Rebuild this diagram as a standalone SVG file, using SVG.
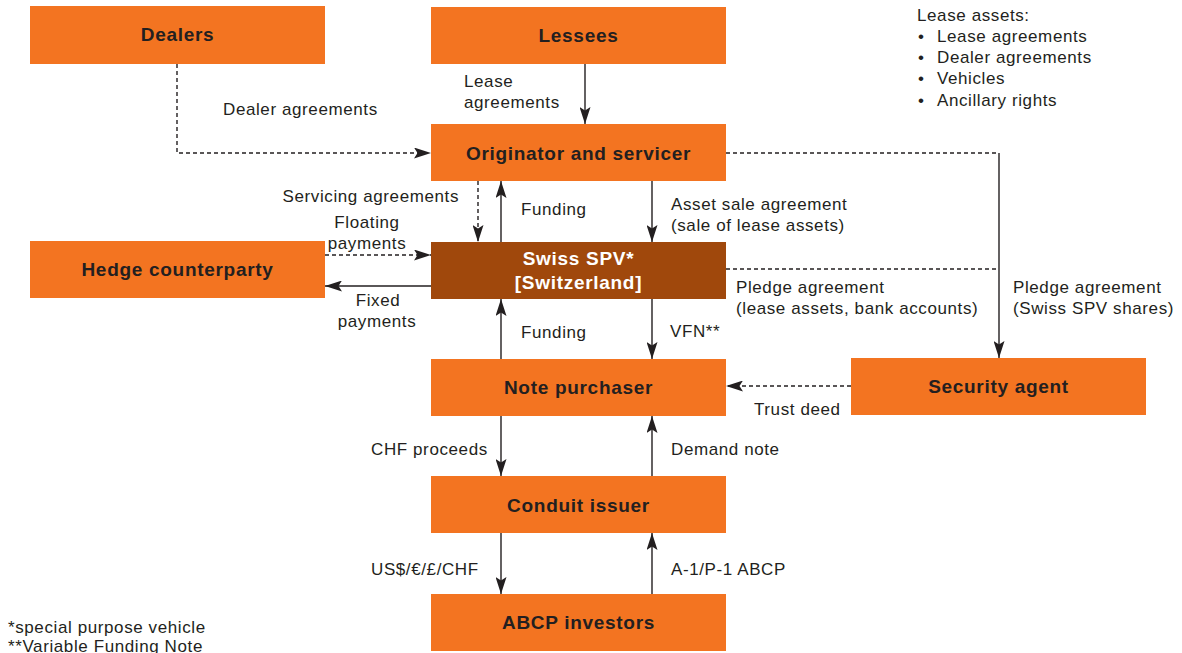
<svg xmlns="http://www.w3.org/2000/svg" width="1182" height="653" viewBox="0 0 1182 653">
<style>
.box{fill:#F37421}
.spv{fill:#A0480C}
.bt{font-family:"Liberation Sans",Arial,sans-serif;font-weight:bold;font-size:19px;letter-spacing:0.7px;fill:#231F20;text-anchor:middle}
.wt{fill:#FFFFFF}
.t{font-family:"Liberation Sans",Arial,sans-serif;font-size:17px;letter-spacing:0.6px;fill:#231F20}
.c{text-anchor:middle}
.e{text-anchor:end}
.ln{stroke:#231F20;stroke-width:1.4;fill:none}
.d{stroke-dasharray:4 3}
</style>
<defs>
<marker id="ah" markerUnits="userSpaceOnUse" markerWidth="17" markerHeight="11" refX="17" refY="5.5" orient="auto">
<path d="M0,0 L17,5.5 L0,11 L3.5,5.5 Z" fill="#231F20"/>
</marker>
</defs>
<g id="connectors">
<path class="ln d" d="M177,64 V153 H431" marker-end="url(#ah)"/>
<path class="ln" d="M585,64 V124" marker-end="url(#ah)"/>
<path class="ln d" d="M478,181 V242" marker-end="url(#ah)"/>
<path class="ln" d="M501,242 V181" marker-end="url(#ah)"/>
<path class="ln" d="M652,181 V242" marker-end="url(#ah)"/>
<path class="ln d" d="M325,255 H431" marker-end="url(#ah)"/>
<path class="ln" d="M431,286 H325" marker-end="url(#ah)"/>
<path class="ln d" d="M726,153 H999"/>
<path class="ln" d="M999,153 V358" marker-end="url(#ah)"/>
<path class="ln d" d="M726,269 H999"/>
<path class="ln" d="M501,359 V299" marker-end="url(#ah)"/>
<path class="ln" d="M652,299 V359" marker-end="url(#ah)"/>
<path class="ln d" d="M851,386 H726" marker-end="url(#ah)"/>
<path class="ln" d="M501,416 V476" marker-end="url(#ah)"/>
<path class="ln" d="M652,476 V416" marker-end="url(#ah)"/>
<path class="ln" d="M501,533 V594" marker-end="url(#ah)"/>
<path class="ln" d="M652,594 V533" marker-end="url(#ah)"/>
</g>
<g id="dealers"><rect class="box" x="30" y="6" width="295" height="58"/><text class="bt" x="177.5" y="41">Dealers</text></g>
<g id="lessees"><rect class="box" x="431" y="7" width="295" height="57"/><text class="bt" x="578.5" y="42">Lessees</text></g>
<g id="originator"><rect class="box" x="431" y="124" width="295" height="57"/><text class="bt" x="578.5" y="160">Originator and servicer</text></g>
<g id="spv"><rect class="spv" x="431" y="242" width="295" height="57"/><text class="bt wt" x="578.5" y="265">Swiss SPV*</text><text class="bt wt" x="578.5" y="289">[Switzerland]</text></g>
<g id="hedge"><rect class="box" x="30" y="241" width="295" height="57"/><text class="bt" x="177.5" y="276">Hedge counterparty</text></g>
<g id="notepurchaser"><rect class="box" x="431" y="359" width="295" height="57"/><text class="bt" x="578.5" y="394">Note purchaser</text></g>
<g id="securityagent"><rect class="box" x="851" y="358" width="295" height="57"/><text class="bt" x="998.5" y="393">Security agent</text></g>
<g id="conduit"><rect class="box" x="431" y="476" width="295" height="57"/><text class="bt" x="578.5" y="512">Conduit issuer</text></g>
<g id="abcp"><rect class="box" x="431" y="594" width="295" height="57"/><text class="bt" x="578.5" y="629">ABCP investors</text></g>
<g id="labels">
<text class="t" x="464" y="87">Lease</text>
<text class="t" x="464" y="108">agreements</text>
<text class="t" x="223" y="115">Dealer agreements</text>
<text class="t e" x="459" y="202">Servicing agreements</text>
<text class="t c" x="367" y="228">Floating</text>
<text class="t c" x="367" y="249">payments</text>
<text class="t c" x="378" y="306">Fixed</text>
<text class="t c" x="377" y="327">payments</text>
<text class="t" x="521" y="215">Funding</text>
<text class="t" x="521" y="338">Funding</text>
<text class="t" x="671" y="210">Asset sale agreement</text>
<text class="t" x="671" y="231">(sale of lease assets)</text>
<text class="t" x="736" y="293">Pledge agreement</text>
<text class="t" x="736" y="314">(lease assets, bank accounts)</text>
<text class="t" x="1013" y="293">Pledge agreement</text>
<text class="t" x="1013" y="314">(Swiss SPV shares)</text>
<text class="t" x="670" y="337">VFN**</text>
<text class="t" x="754" y="415">Trust deed</text>
<text class="t" x="371" y="455">CHF proceeds</text>
<text class="t" x="671" y="455">Demand note</text>
<text class="t" x="371" y="575">US$/€/£/CHF</text>
<text class="t" x="671" y="575">A-1/P-1 ABCP</text>
</g>
<g id="leaseassets">
<text class="t" x="917" y="21">Lease assets:</text>
<text class="t" x="918" y="42">•</text><text class="t" x="937" y="42">Lease agreements</text>
<text class="t" x="918" y="63">•</text><text class="t" x="937" y="63">Dealer agreements</text>
<text class="t" x="918" y="84">•</text><text class="t" x="937" y="84">Vehicles</text>
<text class="t" x="918" y="106">•</text><text class="t" x="937" y="106">Ancillary rights</text>
</g>
<g id="footnotes">
<text class="t" x="8" y="633">*special purpose vehicle</text>
<text class="t" x="8" y="652">**Variable Funding Note</text>
</g>
</svg>
